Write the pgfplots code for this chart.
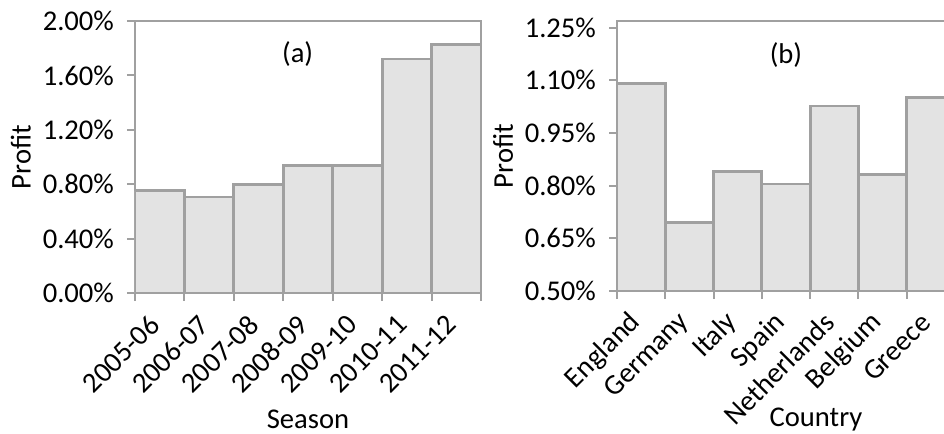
\documentclass[border=0pt]{standalone}
\usepackage{fontspec}
\setmainfont{Carlito}
\usepackage{pgfplots}
\pgfplotsset{compat=1.18}

\definecolor{barfill}{HTML}{E3E3E3}
\definecolor{barline}{HTML}{A0A0A0}
\definecolor{axisgray}{HTML}{A0A0A0}

\pgfplotsset{
  panel/.style={
    scale only axis,
    axis line style={axisgray, line width=1pt},
    ybar, bar width=1,
    xmin=-0.5, xmax=6.5,
    xtick={0,...,6},
    minor xtick={-0.5,0.5,...,6.5},
    major x tick style={draw=none},
    minor x tick style={axisgray, line width=1pt},
    major y tick style={axisgray, line width=1pt},
    tick align=outside,
    xtick pos=bottom, ytick pos=left,
    major tick length=4pt, minor tick length=4pt,
    tick label style={font=\fontsize{14.3}{16}\selectfont, text=black},
    label style={font=\fontsize{14.3}{16}\selectfont},
    % shifts act in the rotated frame of the label
    xticklabel style={rotate=45, anchor=east, xshift=-5pt, yshift=-5pt},
    yticklabel style={xshift=-3pt},
    yticklabel={\pgfmathprintnumber[fixed,fixed zerofill,precision=2,assume math mode=true]{\tick}\%},
    /pgf/number format/assume math mode=true,
  },
  bars/.style={fill=barfill, draw=barline, line width=1.4pt},
}

\begin{document}
\begin{tikzpicture}
% panel (a): profit per season
\begin{axis}[panel,
  at={(67.5pt,70.5pt)}, anchor=south west,
  width=173pt, height=136pt,
  ymin=0, ymax=2, ytick={0,0.4,...,2.0},
  xticklabels={2005-06,2006-07,2007-08,2008-09,2009-10,2010-11,2011-12},
  xlabel={Season}, ylabel={Profit},
  xlabel style={at={(axis description cs:0.5,0)}, anchor=north, yshift=-55pt},
  ylabel style={at={(axis description cs:-0.33,0.5)}, anchor=center},
]
\addplot[bars] coordinates {(0,0.751)(1,0.706)(2,0.800)(3,0.937)(4,0.937)(5,1.720)(6,1.828)};
\node[font=\fontsize{14.3}{16}\selectfont] at (rel axis cs:0.47,0.88) {(a)};
\end{axis}

% panel (b): profit per country
\begin{axis}[panel,
  at={(308.5pt,71.5pt)}, anchor=south west,
  width=169pt, height=135pt,
  ymin=0.5, ymax=1.269, ytick={0.5,0.65,0.8,0.95,1.1,1.25},
  xticklabels={England,Germany,Italy,Spain,Netherlands,Belgium,Greece},
  xlabel={Country}, ylabel={Profit},
  xlabel style={at={(axis description cs:0.5,0)}, anchor=north, yshift=-55pt, xshift=15pt},
  ylabel style={at={(axis description cs:-0.337,0.5)}, anchor=center},
]
\addplot[bars] coordinates {(0,1.092)(1,0.696)(2,0.841)(3,0.805)(4,1.027)(5,0.831)(6,1.050)};
\node[font=\fontsize{14.3}{16}\selectfont] at (rel axis cs:0.5,0.874) {(b)};
\end{axis}

\pgfresetboundingbox
\path[use as bounding box] (0,0) rectangle (472pt,217pt);
\end{tikzpicture}
\end{document}
